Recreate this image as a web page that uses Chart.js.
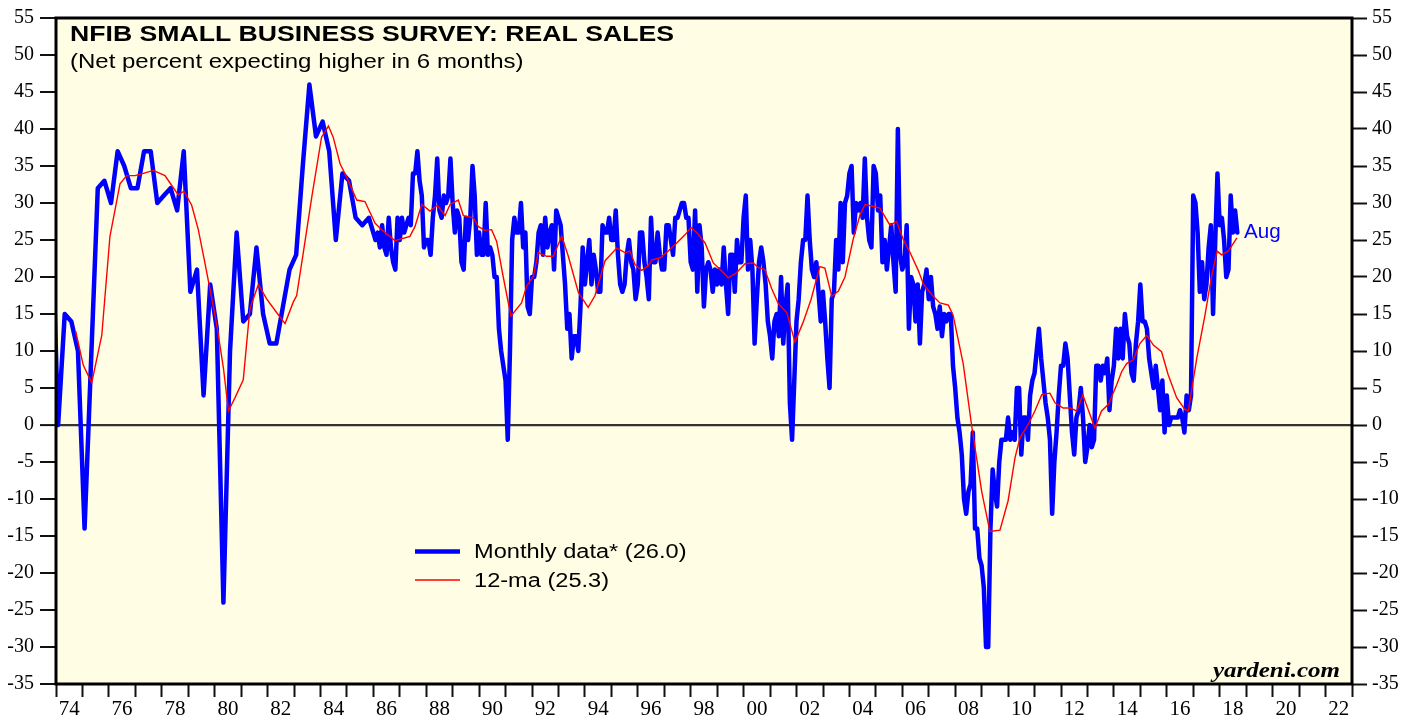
<!DOCTYPE html>
<html>
<head>
<meta charset="utf-8">
<script src="https://cdn.jsdelivr.net/npm/chart.js@4.4.1/dist/chart.umd.min.js"></script>
<style>
html,body{margin:0;padding:0;background:#ffffff;}
canvas{display:block;}
</style>
</head>
<body>
<canvas id="c" width="1417" height="717"></canvas>
<script>
// ---------------- DATA ----------------
// Axis labels (two-digit years, shown centred in every other year)
const labelYears = [1974,1976,1978,1980,1982,1984,1986,1988,1990,1992,1994,1996,1998,2000,2002,2004,2006,2008,2010,2012,2014,2016,2018,2020,2022];
const yearLabels = ['74','76','78','80','82','84','86','88','90','92','94','96','98','00','02','04','06','08','10','12','14','16','18','20','22'];

// Quarterly readings 1973Q4 .. 1985Q4 (survey was quarterly before 1986)
const quarterlyStart = 1973.75;
const quarterly = [30,
  0, 15, 14, 10,     // 1974
  -14, 9, 32, 33,    // 1975
  30, 37, 35, 32,    // 1976
  32, 37, 37, 30,    // 1977
  31, 32, 29, 37,    // 1978
  18, 21, 4, 19,     // 1979
  13, -24, 10, 26,   // 1980
  14, 15, 24, 15,    // 1981
  11, 11, 16, 21,    // 1982
  23, 35, 46, 39,    // 1983
  41, 37, 25, 34,    // 1984
  33, 28, 27, 28];   // 1985

// Monthly readings from 1986
const m1986 = [25, 26, 24, 27, 24, 23, 28, 24, 22, 21, 28, 25];
const m1987 = [28, 26, 27, 28, 27, 34, 34, 37, 33, 31, 24, 25];
const m1988 = [25, 23, 28, 31, 36, 29, 28, 31, 30, 31, 36, 30];
const m1989 = [26, 29, 28, 22, 21, 28, 25, 28, 35, 31, 23, 26];
const m1990 = [23, 23, 30, 23, 24, 23, 20, 20, 13, 10, 8, 6];
const m1991 = [-2, 10, 25, 28, 26, 26, 30, 24, 26, 16, 15, 20];
const m1992 = [20, 22, 26, 27, 23, 28, 24, 26, 27, 21, 29, 28];
const m1993 = [27, 23, 19, 13, 15, 9, 12, 12, 10, 16, 24, 19];
const m1994 = [22, 25, 19, 23, 21, 18, 18, 27, 26, 26, 28, 25];
const m1995 = [25, 29, 23, 19, 18, 19, 23, 25, 22, 21, 17, 19];
const m1996 = [26, 26, 22, 20, 17, 28, 22, 22, 26, 23, 21, 21];
const m1997 = [27, 27, 25, 23, 28, 28, 29, 30, 30, 28, 28, 22];
const m1998 = [21, 29, 18, 27, 24, 16, 21, 22, 21, 18, 21, 19];
const m1999 = [21, 19, 24, 19, 15, 23, 23, 18, 25, 22, 22, 28];
const m2000 = [31, 21, 25, 21, 11, 17, 22, 24, 22, 19, 14, 12];
const m2001 = [9, 14, 15, 12, 20, 11, 16, 19, 3, -2, 6, 14];
const m2002 = [17, 22, 25, 25, 31, 25, 21, 20, 22, 18, 14, 18];
const m2003 = [14, 9, 5, 17, 18, 25, 21, 30, 22, 30, 31, 34];
const m2004 = [35, 26, 30, 29, 30, 28, 36, 28, 25, 24, 35, 34];
const m2005 = [29, 31, 22, 25, 21, 24, 27, 22, 18, 40, 23, 21];
const m2006 = [22, 27, 13, 20, 19, 14, 19, 11, 18, 19, 21, 17];
const m2007 = [20, 16, 15, 13, 16, 12, 15, 14, 15, 15, 8, 5];
const m2008 = [1, -1, -4, -10, -12, -9, -8, -1, -14, -14, -18, -19];
const m2009 = [-22, -30, -30, -14, -6, -9, -11, -5, -2, -2, -2, 1];
const m2010 = [-2, -1, -2, 5, 5, -4, 1, 1, -2, 4, 6, 7];
const m2011 = [10, 13, 9, 6, 3, 1, -2, -12, -5, -1, 4, 8];
const m2012 = [8, 11, 9, 4, -1, -4, 1, 2, 5, 1, -5, -3];
const m2013 = [0, -3, -2, 8, 8, 6, 8, 7, 9, 2, 6, 8];
const m2014 = [13, 9, 13, 9, 15, 12, 11, 7, 6, 11, 14, 19];
const m2015 = [14, 14, 13, 9, 7, 5, 8, 5, 2, 6, -1, 4];
const m2016 = [0, 1, 1, 1, 1, 2, 1, -1, 4, 2, 4, 31];
const m2017 = [30, 26, 18, 22, 17, 19, 24, 27, 15, 25, 34, 27];
const m2018 = [28, 25, 20, 21, 31, 26, 29, 26];
const monthlyStartYear = 1986;
const monthly = [m1986,m1987,m1988,m1989,m1990,m1991,m1992,m1993,m1994,m1995,m1996,m1997,
  m1998,m1999,m2000,m2001,m2002,m2003,m2004,m2005,m2006,m2007,m2008,m2009,m2010,m2011,
  m2012,m2013,m2014,m2015,m2016,m2017,m2018];

// 12-month moving average: [decimal year, value]
const ma12 = [
  [1974.74,12.7],[1975.03,8.1],[1975.35,5.7],[1975.73,12.1],[1976.04,25.5],[1976.42,32.6],
  [1976.67,33.7],[1976.99,33.7],[1977.3,34.0],[1977.68,34.4],[1978.12,33.7],[1978.37,32.4],
  [1978.62,31.1],[1978.84,31.6],[1979.13,29.7],[1979.38,26.4],[1979.63,21.9],[1979.82,18.4],
  [1980.08,13.5],[1980.33,7.7],[1980.52,1.9],[1980.77,3.7],[1981.08,6.1],[1981.33,15.7],
  [1981.65,19.0],[1981.97,17.0],[1982.34,15.2],[1982.66,13.7],[1982.97,16.6],[1983.1,17.5],
  [1983.35,23.3],[1983.67,30.8],[1984.04,38.9],[1984.3,40.4],[1984.48,38.9],[1984.74,35.3],
  [1984.99,33.5],[1985.37,30.4],[1985.68,30.2],[1986.06,27.3],[1986.31,26.4],[1986.82,24.9],
  [1987.38,25.5],[1987.57,26.8],[1987.83,29.8],[1988.14,28.9],[1988.42,29.7],[1988.71,28.3],
  [1988.9,29.8],[1989.21,30.4],[1989.4,28.3],[1989.78,28.0],[1989.97,26.8],[1990.22,26.3],
  [1990.47,26.4],[1990.66,24.8],[1990.91,20.0],[1991.2,14.7],[1991.6,16.5],[1991.8,18.8],
  [1992.05,20.1],[1992.23,23.3],[1992.55,22.8],[1992.8,22.8],[1993.12,25.5],[1993.37,22.8],
  [1993.75,17.9],[1994.12,15.9],[1994.38,17.5],[1994.76,22.2],[1995.2,23.9],[1995.51,23.3],
  [1995.7,23.5],[1995.89,21.7],[1996.14,20.9],[1996.39,21.5],[1996.52,22.3],[1996.84,22.6],
  [1997.15,23.5],[1997.47,24.6],[1997.78,25.7],[1998.01,26.7],[1998.25,25.9],[1998.54,24.6],
  [1998.85,21.9],[1999.17,20.8],[1999.42,19.9],[1999.74,20.6],[2000.05,21.8],[2000.36,21.9],
  [2000.55,21.3],[2000.8,21.0],[2001.06,18.4],[2001.31,16.4],[2001.63,15.2],[2001.94,11.2],
  [2002.25,13.9],[2002.55,17.0],[2002.88,21.4],[2003.07,21.2],[2003.33,17.4],[2003.58,18.1],
  [2003.83,20.0],[2004.14,25.1],[2004.4,28.4],[2004.59,29.8],[2004.84,29.6],[2005.15,29.3],
  [2005.53,27.0],[2005.78,27.5],[2006.03,25.1],[2006.29,23.3],[2006.6,20.9],[2006.79,19.1],
  [2007.11,17.6],[2007.42,16.5],[2007.74,16.2],[2007.92,14.8],[2008.3,8.3],[2008.62,-0.1],
  [2009.0,-9.0],[2009.31,-14.4],[2009.69,-14.2],[2010.0,-10.2],[2010.26,-4.4],[2010.45,-1.7],
  [2010.76,0.1],[2011.01,1.9],[2011.27,4.1],[2011.58,4.3],[2011.77,3.0],[2012.08,2.3],
  [2012.34,2.3],[2012.59,1.9],[2012.82,4.1],[2013.28,-0.4],[2013.53,1.9],[2013.79,2.8],
  [2014.1,5.4],[2014.29,7.2],[2014.48,8.3],[2014.73,8.8],[2014.98,11.0],[2015.24,12.1],
  [2015.49,10.8],[2015.8,9.9],[2016.05,6.8],[2016.37,3.7],[2016.68,2.1],[2016.81,1.9],
  [2017.13,9.0],[2017.44,14.8],[2017.69,20.1],[2017.9,23.5],[2018.07,23.0],[2018.32,23.5],
  [2018.65,25.3]
];

const titleText = 'NFIB SMALL BUSINESS SURVEY: REAL SALES';
const subtitleText = '(Net percent expecting higher in 6 months)';
const seriesLabels = ['Monthly data* (26.0)', '12-ma (25.3)'];
const lastMonthLabel = 'Aug';
const sourceText = 'yardeni.com';

// ---------------- BUILD ----------------
const OFFSET = 0.08;
const bluePts = [];
quarterly.forEach((v, i) => bluePts.push({x: quarterlyStart + i * 0.25 + OFFSET, y: v}));
monthly.forEach((arr, j) => arr.forEach((v, m) => bluePts.push({x: monthlyStartYear + j + m / 12 + OFFSET, y: v})));
const redPts = ma12.map(p => ({x: p[0], y: p[1]}));

const xTickValues = [];
for (let y = 1974; y <= 2023; y++) { xTickValues.push(y); if (y < 2023) xTickValues.push(y + 0.5); }
const labelMap = {};
labelYears.forEach((y, i) => labelMap[y + 0.5] = yearLabels[i]);

const BG = '#FFFEE4';
const SANS = '"Liberation Sans", Arial, Helvetica, sans-serif';
const SERIF = '"Liberation Serif", "Times New Roman", serif';

function sText(ctx, txt, x, y, font, color, sx, align) {
  ctx.save();
  ctx.font = font; ctx.fillStyle = color; ctx.textBaseline = 'alphabetic';
  ctx.textAlign = align || 'left';
  ctx.translate(x, y); ctx.scale(sx, 1);
  ctx.fillText(txt, 0, 0);
  ctx.restore();
}

const deco = {
  id: 'deco',
  beforeDraw(chart) {
    const {ctx, chartArea: a} = chart;
    ctx.save();
    ctx.fillStyle = BG;
    ctx.fillRect(a.left, a.top, a.right - a.left, a.bottom - a.top);
    ctx.restore();
  },
  afterDatasetsDraw(chart) {
    const {ctx, chartArea: a} = chart;
    ctx.save();
    ctx.strokeStyle = '#000';
    ctx.lineWidth = 3;
    ctx.strokeRect(a.left, a.top, a.right - a.left, a.bottom - a.top);
    ctx.restore();

    sText(ctx, titleText, 70, 41, 'bold 22px ' + SANS, '#000', 1.21);
    sText(ctx, subtitleText, 70, 68, '20px ' + SANS, '#000', 1.2);

    const ds = chart.data.datasets;
    // legend
    ctx.save();
    ctx.lineCap = 'butt';
    ctx.strokeStyle = ds[1].borderColor; ctx.lineWidth = ds[1].borderWidth;
    ctx.beginPath(); ctx.moveTo(415, 551.5); ctx.lineTo(460, 551.5); ctx.stroke();
    ctx.strokeStyle = ds[0].borderColor; ctx.lineWidth = ds[0].borderWidth;
    ctx.beginPath(); ctx.moveTo(415, 580); ctx.lineTo(460, 580); ctx.stroke();
    ctx.restore();
    sText(ctx, ds[1].label, 474, 558, '20px ' + SANS, '#000', 1.18);
    sText(ctx, ds[0].label, 474, 586.5, '20px ' + SANS, '#000', 1.18);

    sText(ctx, lastMonthLabel, 1244, 237.5, '20px ' + SANS, '#0000FF', 1.03);
    sText(ctx, sourceText, 1340, 677, 'italic bold 20px ' + SERIF, '#000', 1.25, 'right');
  }
};

new Chart(document.getElementById('c'), {
  type: 'line',
  data: {
    datasets: [
      {label: seriesLabels[1], data: redPts, borderColor: '#FF0000', borderWidth: 1.4,
       pointRadius: 0, tension: 0, fill: false, order: 0},
      {label: seriesLabels[0], data: bluePts, borderColor: '#0000FF', borderWidth: 4.5,
       pointRadius: 0, tension: 0, fill: false, order: 1, borderJoinStyle: 'round', borderCapStyle: 'round'}
    ]
  },
  options: {
    responsive: false,
    devicePixelRatio: 1,
    animation: false,
    layout: {padding: {top: 13, left: 0, right: 0, bottom: 0}},
    plugins: {legend: {display: false}, tooltip: {enabled: false}, title: {display: false}},
    scales: {
      x: {
        type: 'linear', min: 1974, max: 2023, position: 'bottom',
        afterBuildTicks: s => { s.ticks = xTickValues.map(v => ({value: v})); },
        afterFit: s => { s.height = 33; },
        border: {display: false},
        grid: {
          drawOnChartArea: false, drawTicks: true, tickLength: 13, tickWidth: 2,
          tickColor: c => (c.tick && Number.isInteger(c.tick.value)) ? '#111' : 'rgba(0,0,0,0)'
        },
        ticks: {
          autoSkip: false, maxRotation: 0, minRotation: 0, padding: 0, color: '#000',
          font: {family: SERIF, size: 21},
          callback: v => labelMap[v] || ''
        }
      },
      y: {
        type: 'linear', position: 'left', min: -35, max: 55,
        afterFit: s => { s.width = 56; },
        border: {display: false},
        grid: {
          drawOnChartArea: true, drawTicks: true, tickLength: 16, tickWidth: 2, tickColor: '#111',
          color: c => (c.tick && c.tick.value === 0) ? '#333333' : 'rgba(0,0,0,0)',
          lineWidth: c => (c.tick && c.tick.value === 0) ? 2.2 : 0
        },
        ticks: {stepSize: 5, padding: 6, color: '#000', font: {family: SERIF, size: 20}}
      },
      y2: {
        type: 'linear', position: 'right', min: -35, max: 55,
        afterFit: s => { s.width = 65; },
        border: {display: false},
        grid: {drawOnChartArea: false, drawTicks: true, tickLength: 15, tickWidth: 2, tickColor: '#111'},
        ticks: {stepSize: 5, padding: 5, color: '#000', font: {family: SERIF, size: 20}}
      }
    }
  },
  plugins: [deco]
});
</script>
</body>
</html>
